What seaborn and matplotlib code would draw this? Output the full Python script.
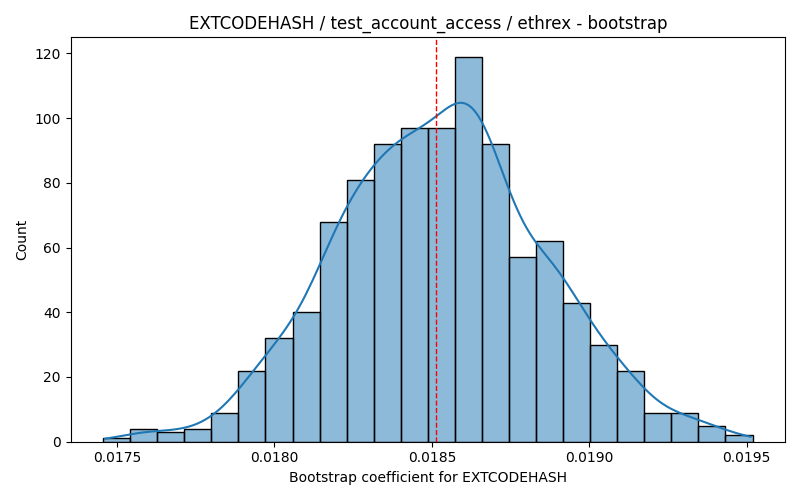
import numpy as np
import pandas as pd
import matplotlib
matplotlib.use("Agg")
import matplotlib.pyplot as plt
import seaborn as sns

# bootstrap histogram (24 bins)
bin_lo = 0.0174556
bin_hi = 0.0195190
counts = [1, 4, 3, 4, 9, 22, 32, 40, 68, 81, 92, 97,
          97, 119, 92, 57, 62, 43, 30, 22, 9, 9, 5, 2]
point_estimate = 0.0185133

edges = np.linspace(bin_lo, bin_hi, len(counts) + 1)
df = pd.DataFrame({"coef": (edges[:-1] + edges[1:]) / 2, "n": counts})

fig, ax = plt.subplots(figsize=(8, 5), dpi=100)
sns.histplot(data=df, x="coef", weights="n", bins=len(counts),
             binrange=(bin_lo, bin_hi), kde=True, ax=ax,
             kde_kws={"bw_adjust": 0.38, "cut": 0.3})
ax.axvline(point_estimate, color="red", linestyle="--", linewidth=1)
ax.set_title("EXTCODEHASH / test_account_access / ethrex - bootstrap")
ax.set_xlabel("Bootstrap coefficient for EXTCODEHASH")
ax.set_ylabel("Count")
ax.set_xlim(bin_lo - 0.05 * (bin_hi - bin_lo), bin_hi + 0.05 * (bin_hi - bin_lo))
fig.tight_layout()
fig.savefig("out.png", dpi=100)
